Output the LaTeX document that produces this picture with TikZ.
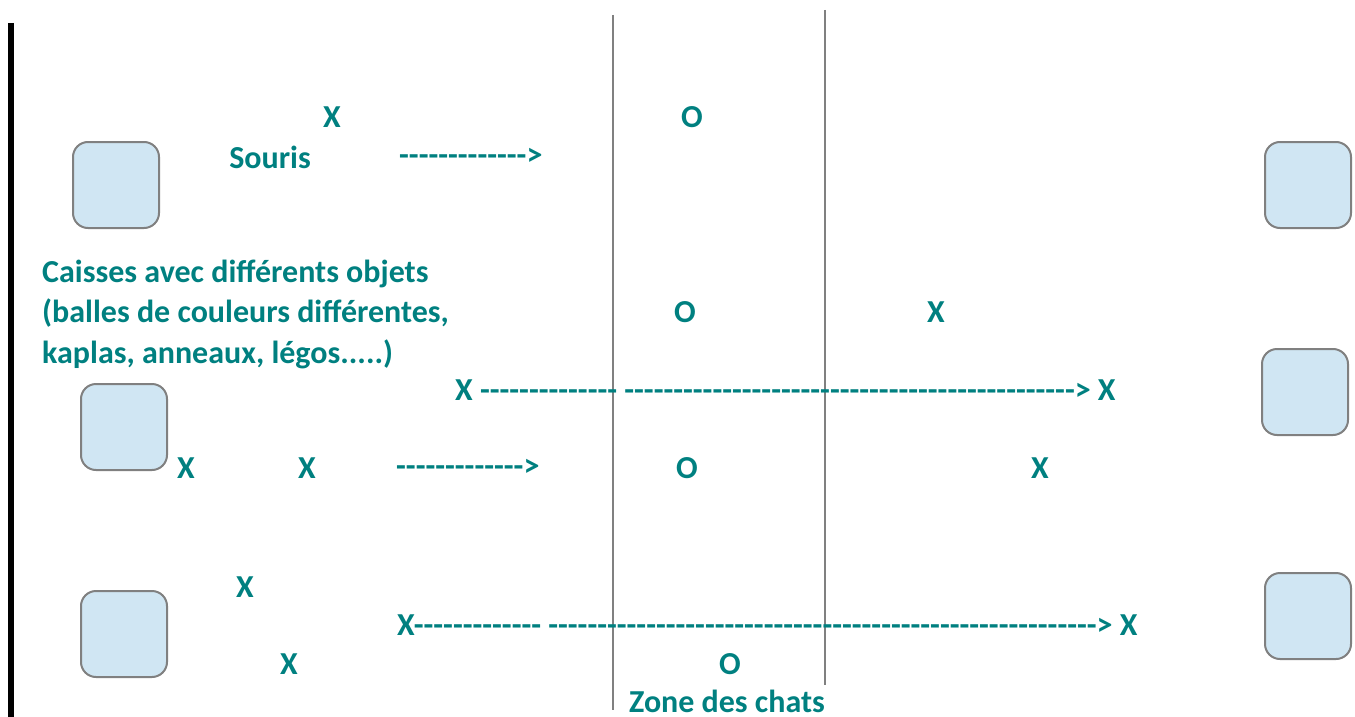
\documentclass[tikz,border=0pt]{standalone}
\usepackage{fontspec}
\setmainfont{Carlito}
\definecolor{labteal}{RGB}{0,128,128}
\definecolor{boxblue}{RGB}{208,230,243}
\definecolor{edgegray}{RGB}{128,128,128}
\ExplSyntaxOn
\cs_new:Npn \hyph #1 { \prg_replicate:nn {#1} { -\kern0pt\relax } }
\ExplSyntaxOff
\tikzset{
  lab/.style={text=labteal, font=\bfseries\fontsize{32}{40.5}\selectfont, inner sep=0pt},
  crate/.style={draw=edgegray, line width=2pt, fill=boxblue, rounded corners=15pt, minimum size=86pt, inner sep=0pt},
  zoneline/.style={draw=edgegray, line width=1.5pt},
  wall/.style={draw=black, line width=6pt}
}
\begin{document}
\begin{tikzpicture}[x=1pt,y=-1pt]
\useasboundingbox (0,0) rectangle (1355,717);
% crates
\node[crate] (l1) at (116,185) {};
\node[crate] (l2) at (124,427) {};
\node[crate] (l3) at (124,634) {};
\node[crate] (r1) at (1308,185) {};
\node[crate] (r2) at (1305,392) {};
\node[crate] (r3) at (1308,616) {};
% lines
\draw[wall] (11,23) -- (11,717);
\draw[zoneline] (613,15) -- (613,710);
\draw[zoneline] (825,10) -- (825,685);
% texts
\node[lab] (x1) at (332,117) {X};
\node[lab] (souris) at (270,157) {Souris};
\node[lab,anchor=west] (a1) at (399,157) {\hyph{13}>};
\node[lab] (o1) at (692,117) {O};
\node[lab,align=left,anchor=north west] (caisses) at (42,259.5) {Caisses avec différents objets\\(balles de couleurs différentes,\\kaplas, anneaux, légos.....)};
\node[lab] (o2) at (685,312) {O};
\node[lab] (x2) at (936,312) {X};
\node[lab,anchor=west] (a2) at (455,390) {X \hyph{14} \hyph{46}> X};
\node[lab] (x3) at (186,468) {X};
\node[lab] (x4) at (307,468) {X};
\node[lab,anchor=west] (a3) at (396,468) {\hyph{13}>};
\node[lab] (o3) at (687,468) {O};
\node[lab] (x5) at (1040,468) {X};
\node[lab] (x6) at (245,587) {X};
\node[lab,anchor=west] (a4) at (397,625) {X\hyph{13} \hyph{56}> X};
\node[lab] (x7) at (289,664) {X};
\node[lab] (o4) at (730,664) {O};
\node[lab] (zone) at (727,701) {Zone des chats};
\end{tikzpicture}
\end{document}
